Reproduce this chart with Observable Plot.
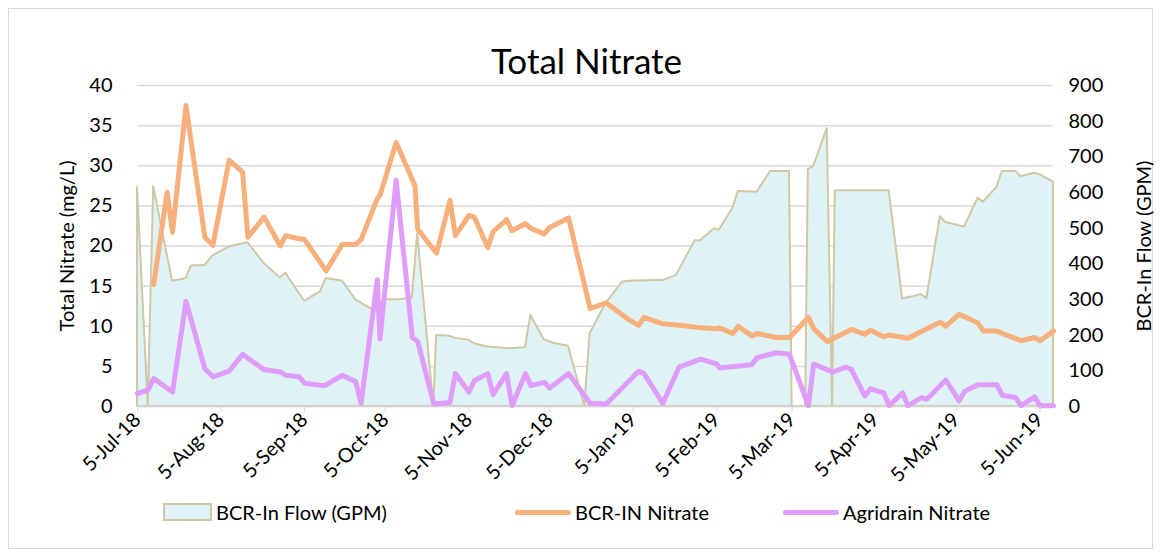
<!DOCTYPE html>
<html>
<head>
<meta charset="utf-8">
<script src="https://cdn.jsdelivr.net/npm/d3@7"></script>
<script src="https://cdn.jsdelivr.net/npm/@observablehq/plot@0.6"></script>
<style>
  body { margin: 0; background: #fff; font-family: Lato, "Liberation Sans", sans-serif; }
  #chart { position: relative; width: 1161px; height: 557px; overflow: hidden; background: #fff; }
  #frame { position: absolute; left: 8px; top: 8px; width: 1145px; height: 541px; border: 1px solid #d9d9d9; box-sizing: border-box; }
  #title { position: absolute; left: 0; top: 40px; width: 1173px; text-align: center; font-size: 35px; line-height: 40px; color: #000; }
  #plot { position: absolute; left: 0; top: 78px; }
  #legend { position: absolute; left: 0; top: 498px; width: 1161px; height: 30px; }
  .item { position: absolute; top: 0; display: flex; align-items: center; height: 28px; font-size: 20px; color: #000; white-space: nowrap; }
  .sw { display: inline-block; margin-right: 4px; box-sizing: border-box; }
</style>
</head>
<body>
<div id="chart">
  <div id="frame"></div>
  <div id="title"></div>
  <div id="plot"></div>
  <div id="legend"></div>
</div>
<script>
// ---------------- data ----------------
const chartTitle = "Total Nitrate";
const leftAxisLabel = "Total Nitrate (mg/L)";
const rightAxisLabel = "BCR-In Flow (GPM)";
const seriesNames = ["BCR-In Flow (GPM)", "BCR-IN Nitrate", "Agridrain Nitrate"];

const xTickDates = ["2018-07-05","2018-08-05","2018-09-05","2018-10-05","2018-11-05","2018-12-05",
                    "2019-01-05","2019-02-05","2019-03-05","2019-04-05","2019-05-05","2019-06-05"];
const leftTicks = [0, 5, 10, 15, 20, 25, 30, 35, 40];
const rightTicks = [0, 100, 200, 300, 400, 500, 600, 700, 800, 900];

// BCR-In Flow (GPM)
const flowDates = ["2018-07-05","2018-07-09","2018-07-11","2018-07-18","2018-07-23","2018-07-25","2018-07-30",
  "2018-08-02","2018-08-08","2018-08-15","2018-08-21","2018-08-27","2018-08-29","2018-09-05","2018-09-11",
  "2018-09-13","2018-09-19","2018-09-24","2018-09-30","2018-10-05","2018-10-10","2018-10-15","2018-10-17",
  "2018-10-23","2018-10-24","2018-10-29","2018-10-31","2018-11-05","2018-11-07","2018-11-12","2018-11-20",
  "2018-11-26","2018-11-28","2018-12-03","2018-12-06","2018-12-12","2018-12-18","2018-12-20","2018-12-26",
  "2019-01-01","2019-01-05","2019-01-16","2019-01-21","2019-01-28","2019-01-30","2019-02-04","2019-02-06",
  "2019-02-11","2019-02-13","2019-02-20","2019-02-25","2019-03-04","2019-03-05","2019-03-10","2019-03-11",
  "2019-03-13","2019-03-18","2019-03-20","2019-03-21","2019-04-10","2019-04-15","2019-04-19","2019-04-22",
  "2019-04-24","2019-04-29","2019-05-01","2019-05-08","2019-05-13","2019-05-15","2019-05-20","2019-05-22",
  "2019-05-27","2019-05-29","2019-06-03","2019-06-05","2019-06-10"];
const flowValues = [614,0,617,351,358,394,395,
  422,447,459,401,360,374,295,322,
  359,352,299,273,299,299,304,484,
  0,199,197,191,186,176,167,162,
  165,255,187,178,169,0,204,290,
  349,352,353,367,465,465,498,495,
  555,603,601,659,659,0,0,664,
  673,779,0,605,605,302,308,314,
  302,532,516,503,584,573,614,659,
  659,644,654,650,629];

// BCR-IN Nitrate (mg/L)
const nitrateDates = ["2018-07-11","2018-07-16","2018-07-18","2018-07-23","2018-07-30","2018-08-02","2018-08-08",
  "2018-08-13","2018-08-15","2018-08-21","2018-08-27","2018-08-29","2018-09-03","2018-09-05","2018-09-13",
  "2018-09-19","2018-09-24","2018-09-26","2018-10-02","2018-10-03","2018-10-09","2018-10-16","2018-10-17",
  "2018-10-24","2018-10-29","2018-10-31","2018-11-05","2018-11-07","2018-11-12","2018-11-14","2018-11-19",
  "2018-11-21","2018-11-26","2018-11-28","2018-12-03","2018-12-05","2018-12-12","2018-12-20","2018-12-26",
  "2019-01-03","2019-01-07","2019-01-09","2019-01-16","2019-01-23","2019-01-30","2019-02-05","2019-02-06",
  "2019-02-11","2019-02-13","2019-02-18","2019-02-20","2019-02-27","2019-03-04","2019-03-11","2019-03-13",
  "2019-03-18","2019-03-27","2019-04-01","2019-04-03","2019-04-08","2019-04-10","2019-04-17","2019-04-24",
  "2019-04-29","2019-05-01","2019-05-06","2019-05-13","2019-05-15","2019-05-20","2019-05-22","2019-05-29",
  "2019-06-03","2019-06-05","2019-06-10"];
const nitrateValues = [15.2,26.7,21.7,37.5,21.1,20.1,30.7,
  29.2,21.1,23.6,20.0,21.3,20.9,20.8,16.9,
  20.2,20.2,20.8,25.9,26.3,32.9,27.5,22.1,
  19.1,25.7,21.3,23.8,23.6,19.8,21.8,23.3,
  21.9,22.8,22.2,21.5,22.3,23.5,12.2,12.9,
  10.9,10.1,11.1,10.3,10.1,9.8,9.7,9.8,
  9.1,10.0,8.8,9.1,8.6,8.6,11.1,9.7,
  8.1,9.6,9.0,9.5,8.7,8.9,8.5,9.7,
  10.5,10.0,11.5,10.4,9.4,9.4,9.1,8.2,
  8.6,8.2,9.4];

// Agridrain Nitrate (mg/L)
const agriDates = ["2018-07-05","2018-07-09","2018-07-11","2018-07-18","2018-07-23","2018-07-30","2018-08-02",
  "2018-08-08","2018-08-13","2018-08-15","2018-08-21","2018-08-27","2018-08-29","2018-09-03","2018-09-05",
  "2018-09-12","2018-09-13","2018-09-18","2018-09-19","2018-09-24","2018-09-26","2018-10-02","2018-10-03",
  "2018-10-09","2018-10-15","2018-10-17","2018-10-23","2018-10-29","2018-10-31","2018-11-05","2018-11-07",
  "2018-11-12","2018-11-14","2018-11-19","2018-11-21","2018-11-26","2018-11-28","2018-12-03","2018-12-05",
  "2018-12-12","2018-12-20","2018-12-26","2019-01-07","2019-01-09","2019-01-16","2019-01-22","2019-01-30",
  "2019-02-05","2019-02-06","2019-02-18","2019-02-20","2019-02-27","2019-03-04","2019-03-11","2019-03-13",
  "2019-03-20","2019-03-25","2019-03-27","2019-04-01","2019-04-03","2019-04-08","2019-04-10","2019-04-15",
  "2019-04-17","2019-04-22","2019-04-24","2019-05-01","2019-05-06","2019-05-08","2019-05-13","2019-05-20",
  "2019-05-22","2019-05-27","2019-05-29","2019-06-03","2019-06-05","2019-06-10"];
const agriValues = [1.6,2.1,3.5,1.8,13.1,4.7,3.7,
  4.4,6.5,6.0,4.6,4.3,3.9,3.7,2.9,
  2.6,2.7,3.7,3.9,3.1,0.4,15.8,8.4,
  28.2,8.6,8.1,0.3,0.5,4.1,1.8,3.2,
  4.1,1.5,4.1,0.1,4.1,2.6,3.0,2.3,
  4.1,0.4,0.3,4.4,4.1,0.4,4.9,5.9,
  5.3,4.8,5.2,6.1,6.7,6.5,0.1,5.3,
  4.3,4.9,4.6,1.3,2.2,1.7,0.1,1.7,
  0.1,1.1,0.9,3.3,0.7,1.9,2.7,2.7,
  1.4,1.1,0.1,1.2,0.1,0.1];

// ---------------- styles ----------------
const colors = { flowFill: "#dff3f7", flowStroke: "#cfc7a6", nitrate: "#f7b07b", agri: "#df9cf8", grid: "#d9d9d9" };
const fontFamily = 'Lato, "Liberation Sans", sans-serif';
// right axis (0–900 GPM) spans the same height as the left axis (0–40 mg/L)
const flowRatio = rightTicks[rightTicks.length - 1] / leftTicks[leftTicks.length - 1];

const flowRows = flowDates.map((d, i) => ({ date: new Date(d), flow: flowValues[i] }));
const nitrateRows = nitrateDates.map((d, i) => ({ date: new Date(d), v: nitrateValues[i] }));
const agriRows = agriDates.map((d, i) => ({ date: new Date(d), v: agriValues[i] }));
const xTicks = xTickDates.map(d => new Date(d));
const fmt = d3.utcFormat("%-d-%b-%y");

document.getElementById("title").textContent = chartTitle;

const chart = Plot.plot({
  width: 1161,
  height: 402,
  marginTop: 7,
  marginBottom: 74,
  marginLeft: 137,
  marginRight: 108,
  style: { fontFamily, fontSize: "20px", color: "#000", background: "transparent", overflow: "visible" },
  x: { type: "utc", domain: [new Date(flowDates[0]), new Date(flowDates[flowDates.length - 1])] },
  y: { domain: [leftTicks[0], leftTicks[leftTicks.length - 1]] },
  marks: [
    Plot.gridY(leftTicks, { stroke: colors.grid, strokeOpacity: 1, strokeWidth: 1.5 }),
    Plot.areaY(flowRows, { x: "date", y: d => d.flow / flowRatio, fill: colors.flowFill, stroke: colors.flowStroke, strokeWidth: 2, curve: "linear" }),
    Plot.ruleY([0], { stroke: colors.grid, strokeWidth: 1.5 }),
    Plot.lineY(nitrateRows, { x: "date", y: "v", stroke: colors.nitrate, strokeWidth: 5, strokeLinejoin: "round", strokeLinecap: "round", curve: "linear" }),
    Plot.lineY(agriRows, { x: "date", y: "v", stroke: colors.agri, strokeWidth: 5, strokeLinejoin: "round", strokeLinecap: "round", curve: "linear" }),
    Plot.axisX(xTicks, { tickFormat: fmt, tickRotate: -45, tickSize: 6, tickPadding: 4, stroke: colors.grid, label: null, fontSize: 20 }),
    Plot.axisY(leftTicks, { anchor: "left", tickSize: 0, tickPadding: 25, label: leftAxisLabel, labelAnchor: "center", labelOffset: 78, labelArrow: "none", fontSize: 20 }),
    Plot.axisY(rightTicks.map(v => v / flowRatio), { anchor: "right", tickSize: 0, tickPadding: 15, tickFormat: d => Math.round(d * flowRatio), label: rightAxisLabel, labelAnchor: "center", labelOffset: 97, labelArrow: "none", fontSize: 20 })
  ]
});
document.getElementById("plot").appendChild(chart);

// legend
const legend = document.getElementById("legend");
const legendItems = [
  { name: seriesNames[0], left: 163, kind: "area" },
  { name: seriesNames[1], left: 515, kind: "line", color: colors.nitrate },
  { name: seriesNames[2], left: 783, kind: "line", color: colors.agri }
];
for (const it of legendItems) {
  const div = document.createElement("div");
  div.className = "item";
  div.style.left = it.left + "px";
  const sw = document.createElement("span");
  sw.className = "sw";
  if (it.kind === "area") {
    sw.style.width = "49px"; sw.style.height = "18px";
    sw.style.background = colors.flowFill; sw.style.border = "2px solid " + colors.flowStroke;
  } else {
    sw.style.width = "56px"; sw.style.height = "5px"; sw.style.borderRadius = "3px";
    sw.style.background = it.color;
  }
  div.appendChild(sw);
  const t = document.createElement("span");
  t.textContent = it.name;
  div.appendChild(t);
  legend.appendChild(div);
}
</script>
</body>
</html>
